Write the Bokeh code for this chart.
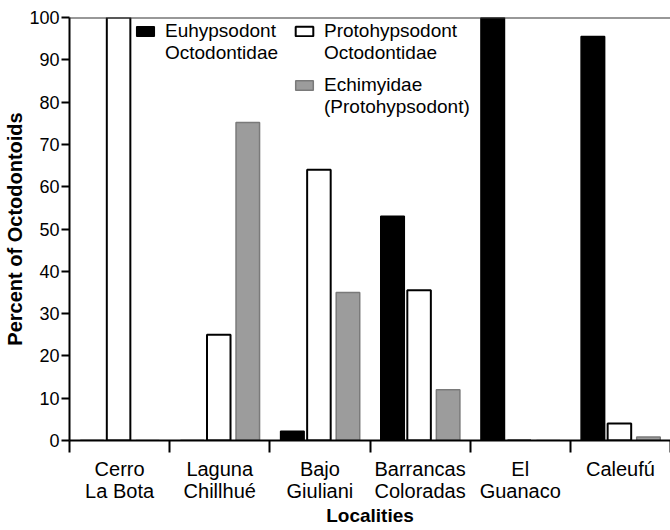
from bokeh.plotting import figure
from bokeh.models import (ColumnDataSource, FixedTicker, Legend, LegendItem, Span, Range1d)
from bokeh.transform import dodge
from bokeh.embed import file_html
from bokeh.resources import INLINE

localities = ["Cerro\nLa Bota", "Laguna\nChillhué", "Bajo\nGiuliani",
              "Barrancas\nColoradas", "El\nGuanaco", "Caleufú"]
euhypsodont = [0, 0, 2.2, 53, 100, 95.5]
protohypsodont = [100, 25, 64, 35.5, 0, 4]
echimyidae = [0, 75.2, 35, 12, 0, 0.8]
y_ticks = [0, 10, 20, 30, 40, 50, 60, 70, 80, 90, 100]
series_labels = [["Euhypsodont", "Octodontidae"],
                 ["Protohypsodont", "Octodontidae"],
                 ["Echimyidae", "(Protohypsodont)"]]

centers = [i + 0.5 for i in range(len(localities))]
bounds = [float(i) for i in range(len(localities) + 1)]

src = ColumnDataSource(dict(x=centers, eu=euhypsodont, pr=protohypsodont, ec=echimyidae))

FONT = "Liberation Sans"

p = figure(width=670, height=530, x_range=Range1d(0, len(localities)),
           y_range=Range1d(0, 100), output_backend="svg", toolbar_location=None,
           min_border_left=69, min_border_top=17, min_border_right=0, min_border_bottom=90)
p.outline_line_color = None
p.xgrid.visible = False
p.ygrid.visible = False
p.background_fill_color = "white"
p.border_fill_color = "white"

W = 0.235
r_eu = p.vbar(x=dodge("x", -0.275, range=p.x_range), top="eu", width=W, source=src,
              fill_color="black", line_color="black", line_width=1.5)
r_pr = p.vbar(x=dodge("x", -0.01, range=p.x_range), top="pr", width=W, source=src,
              fill_color="white", line_color="black", line_width=2)
r_ec = p.vbar(x=dodge("x", 0.28, range=p.x_range), top="ec", width=W, source=src,
              fill_color="#9c9c9c", line_color="#7a7a7a", line_width=1.5)

p.add_layout(Span(location=100, dimension="width", line_color="#333333", line_width=2))

# x axis
xa = p.xaxis[0]
xa.ticker = FixedTicker(ticks=centers, minor_ticks=bounds)
xa.major_label_overrides = {c: lab for c, lab in zip(centers, localities)}
xa.major_tick_out = 0
xa.major_tick_in = 0
xa.minor_tick_out = 12
xa.minor_tick_in = 0
xa.minor_tick_line_width = 2
xa.axis_line_width = 2
xa.major_label_standoff = 5
xa.major_label_text_font = FONT
xa.major_label_text_font_size = "20px"
xa.major_label_text_line_height = 1.0
xa.major_label_text_color = "black"
xa.axis_label = "Localities"
xa.axis_label_text_font = FONT
xa.axis_label_text_font_style = "bold"
xa.axis_label_text_font_size = "19px"
xa.axis_label_standoff = 0
xa.axis_label_text_color = "black"

# y axis
ya = p.yaxis[0]
ya.ticker = FixedTicker(ticks=y_ticks, minor_ticks=[])
ya.major_tick_out = 8
ya.major_tick_in = 0
ya.major_tick_line_width = 2
ya.axis_line_width = 2
ya.major_label_standoff = 2
ya.major_label_text_font = FONT
ya.major_label_text_font_size = "18px"
ya.major_label_text_color = "black"
ya.axis_label = "Percent of Octodontoids"
ya.axis_label_text_font = FONT
ya.axis_label_text_font_style = "bold"
ya.axis_label_text_font_size = "20px"
ya.axis_label_standoff = 0
ya.axis_label_text_color = "black"

def mk_legend(renderer, lines, loc):
    items = [LegendItem(label=lines[0], renderers=[renderer]),
             LegendItem(label=lines[1], renderers=[])]
    lg = Legend(items=items, location=loc, orientation="vertical",
                label_text_font=FONT, label_text_font_size="19px",
                label_text_color="black", glyph_width=22, glyph_height=12,
                label_height=22, label_standoff=9, padding=0, margin=0, spacing=0,
                border_line_color=None, background_fill_alpha=0)
    p.add_layout(lg)
    return lg

mk_legend(r_eu, series_labels[0], (65, 376))
mk_legend(r_pr, series_labels[1], (224, 376))
mk_legend(r_ec, series_labels[2], (224, 322))

open("out.html", "w").write(file_html(p, INLINE))
